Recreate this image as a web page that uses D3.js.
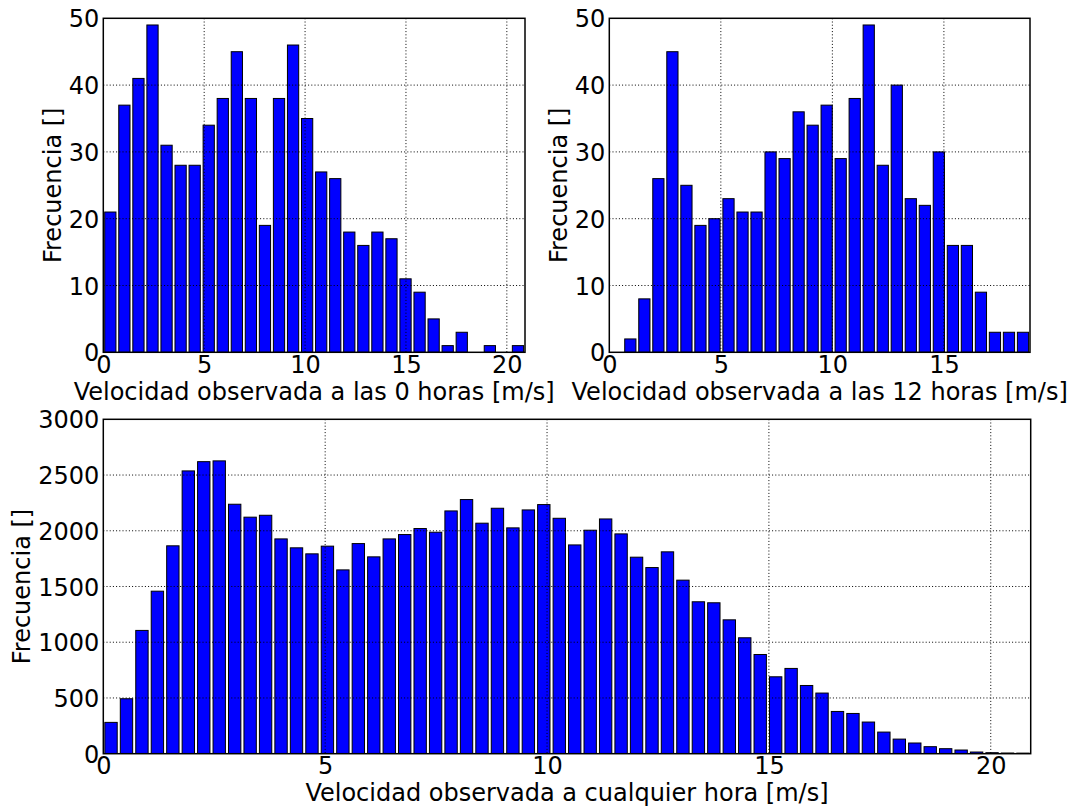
<!DOCTYPE html>
<html>
<head>
<meta charset="utf-8">
<script src="https://cdn.jsdelivr.net/npm/d3@7"></script>
<style>
  html, body { margin: 0; padding: 0; background: #fff; }
  svg { display: block; }
  text { font-family: "DejaVu Sans", sans-serif; fill: #000; }
</style>
</head>
<body>
<svg id="fig" width="1075" height="808"></svg>
<script>
// Histogram counts per bin (30 bins for the hourly panels, 60 for all hours)
const counts0h = [21, 37, 41, 49, 31, 28, 28, 34, 38, 45, 38, 19, 38, 46, 35,
                  27, 26, 18, 16, 18, 17, 11, 9, 5, 1, 3, 0, 1, 0, 1];
const counts12h = [0, 2, 8, 26, 45, 25, 19, 20, 23, 21, 21, 30, 29, 36, 34,
                   37, 29, 38, 49, 28, 40, 23, 22, 30, 16, 16, 9, 3, 3, 3];
const countsAll = [281, 493, 1106, 1458, 1865, 2537, 2620, 2627, 2238, 2122,
                   2139, 1927, 1847, 1793, 1862, 1649, 1885, 1766, 1927, 1966,
                   2020, 1987, 2178, 2280, 2068, 2202, 2026, 2187, 2235, 2112,
                   1873, 2005, 2106, 1972, 1763, 1670, 1811, 1557, 1363, 1354,
                   1201, 1040, 890, 690, 765, 612, 544, 379, 361, 284,
                   194, 131, 96, 63, 45, 33, 15, 9, 6, 5];

// Speed range covered by each histogram [m/s]
const range0h = [0, 20.9];
const range12h = [0, 18.86];
const rangeAll = [0, 20.9];

// Tick labels
const xTicks0h = [0, 5, 10, 15, 20];
const xTicks12h = [0, 5, 10, 15];
const xTicksAll = [0, 5, 10, 15, 20];
const yTicks0h = [0, 10, 20, 30, 40, 50];
const yTicks12h = [0, 10, 20, 30, 40, 50];
const yTicksAll = [0, 500, 1000, 1500, 2000, 2500, 3000];

// Axis titles
const xLabel0h = "Velocidad observada a las 0 horas [m/s]";
const xLabel12h = "Velocidad observada a las 12 horas [m/s]";
const xLabelAll = "Velocidad observada a cualquier hora [m/s]";
const yLabel = "Frecuencia []";

const svg = d3.select("#fig");
const FONT = 24;
const RWIDTH = 0.8;

const panels = [
  { left: 103.3, top: 18.3, width: 421.7, height: 334, counts: counts0h, range: range0h,
    xTicks: xTicks0h, yTicks: yTicks0h, xLabel: xLabel0h, yLabelOffset: 42 },
  { left: 609.3, top: 18.3, width: 420.7, height: 334, counts: counts12h, range: range12h,
    xTicks: xTicks12h, yTicks: yTicks12h, xLabel: xLabel12h, yLabelOffset: 42.5 },
  { left: 103.3, top: 419.3, width: 927.4, height: 334.4, counts: countsAll, range: rangeAll,
    xTicks: xTicksAll, yTicks: yTicksAll, xLabel: xLabelAll, yLabelOffset: 73 }
];

panels.forEach(p => {
  const g = svg.append("g").attr("transform", `translate(${p.left},${p.top})`);
  const x = d3.scaleLinear().domain(p.range).range([0, p.width]);
  const y = d3.scaleLinear().domain([p.yTicks[0], p.yTicks[p.yTicks.length - 1]]).range([p.height, 0]);

  const n = p.counts.length;
  const binW = (p.range[1] - p.range[0]) / n;
  const bins = p.counts.map((c, i) => ({ x0: p.range[0] + i * binW, x1: p.range[0] + (i + 1) * binW, c }));

  const clipId = "clip" + Math.round(p.left) + "_" + Math.round(p.top);
  g.append("clipPath").attr("id", clipId)
    .append("rect").attr("width", p.width).attr("height", p.height);

  // bars
  g.append("g").attr("clip-path", `url(#${clipId})`)
    .selectAll("rect").data(bins.filter(b => b.c > 0)).join("rect")
    .attr("x", d => x((d.x0 + d.x1) / 2 - RWIDTH * binW / 2))
    .attr("width", d => x(p.range[0] + RWIDTH * binW) - x(p.range[0]))
    .attr("y", d => y(d.c))
    .attr("height", d => y(0) - y(d.c))
    .attr("fill", "#0000ff")
    .attr("stroke", "#000")
    .attr("stroke-width", 1);

  // dotted grid, drawn over the bars
  const grid = g.append("g").attr("stroke", "#000").attr("stroke-width", 1)
    .attr("stroke-dasharray", "1,2.2").attr("fill", "none");
  p.xTicks.filter(t => t > p.range[0]).forEach(t => {
    grid.append("line").attr("x1", x(t)).attr("x2", x(t)).attr("y1", 0).attr("y2", p.height);
  });
  p.yTicks.slice(1, -1).forEach(t => {
    grid.append("line").attr("x1", 0).attr("x2", p.width).attr("y1", y(t)).attr("y2", y(t));
  });

  // frame
  g.append("rect").attr("width", p.width).attr("height", p.height)
    .attr("fill", "none").attr("stroke", "#000").attr("stroke-width", 1.5);

  // x tick labels
  const xAxis = d3.axisBottom(x).tickValues(p.xTicks).tickFormat(d3.format("d")).tickSize(0);
  const xa = g.append("g").attr("transform", `translate(0,${p.height})`).call(xAxis);
  xa.select(".domain").remove();
  xa.selectAll("text").attr("font-size", FONT).attr("font-family", "DejaVu Sans")
    .attr("dy", null).attr("y", 20.5).attr("fill", "#000");

  // y tick labels
  const yAxis = d3.axisLeft(y).tickValues(p.yTicks).tickFormat(d3.format("d")).tickSize(0).tickPadding(4);
  const ya = g.append("g").call(yAxis);
  ya.select(".domain").remove();
  ya.selectAll("text").attr("font-size", FONT).attr("font-family", "DejaVu Sans")
    .attr("dy", "0.36em").attr("fill", "#000");

  // axis titles
  g.append("text").attr("x", p.width / 2).attr("y", p.height + 47.5)
    .attr("text-anchor", "middle").attr("font-size", FONT).text(p.xLabel);
  g.append("text")
    .attr("transform", `translate(${-p.yLabelOffset},${p.height / 2}) rotate(-90)`)
    .attr("text-anchor", "middle").attr("font-size", FONT).text(yLabel);
});
</script>
</body>
</html>
